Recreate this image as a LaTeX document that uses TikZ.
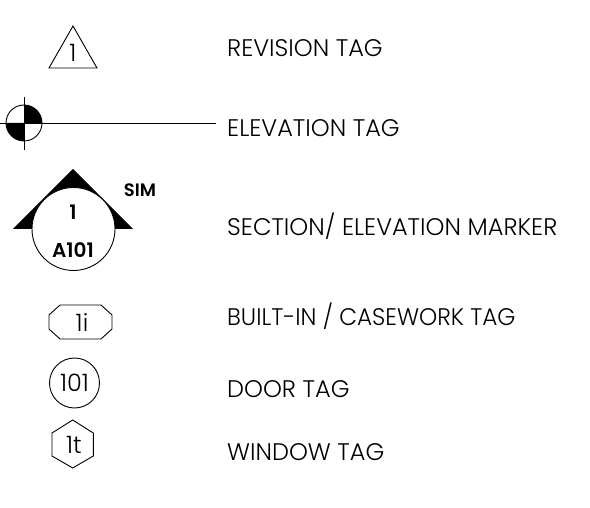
\documentclass[tikz,border=0pt]{standalone}
\usepackage{graphicx}
\usepackage{fontspec}
\setmainfont{Poppins}[UprightFont=* Light,BoldFont=* SemiBold]
\tikzset{
  sym/.style={draw=black,line width=0.9pt,line join=miter,fill=none},
  lab/.style={anchor=base west,inner sep=0pt,font=\fontsize{24}{28}\selectfont},
  tagtxt/.style={inner sep=0pt,font=\fontsize{24}{28}\selectfont},
  boldtxt/.style={inner sep=0pt,font=\fontsize{20}{24}\selectfont\bfseries},
}
\begin{document}
\begin{tikzpicture}[x=1pt,y=-1pt]
\useasboundingbox (0,0) rectangle (590,508);
% revision
\draw[sym] (73,26) -- (97,68) -- (49,68) -- cycle;
\node[tagtxt] (t1) at (73,53) {1};
\node[lab] (l1) at (227,57) {REVISION TAG};
% elevation
\coordinate (ec) at (24,123);
\fill (ec) -- (24,105) arc[start angle=-90,end angle=0,radius=18] -- cycle;
\fill (ec) -- (24,141) arc[start angle=90,end angle=180,radius=18] -- cycle;
\draw[sym] (ec) circle[radius=18];
\coordinate (ee) at (216,123);
\coordinate (ew) at (0,123);
\draw[sym] (ew) -- (ee);
\draw[sym] (24,97) -- (24,150);
\node[lab] (l2) at (227,137) {ELEVATION TAG};
% section marker
\fill (73,169) -- (133,229) -- (13,229) -- cycle;
\node[circle,draw=black,fill=white,line width=0.9pt,minimum size=83pt,inner sep=0pt] (sc) at (73.5,229) {};
\node[boldtxt] (s1) at (73,212) {1};
\node[boldtxt] (s2) at (73,250) {A101};
\node[boldtxt,font=\fontsize{18}{22}\selectfont\bfseries] (sim) at (140,190) {SIM};
\node[lab] (l3) at (227,236) {SECTION/ ELEVATION MARKER};
% built-in
\draw[sym] (60,305) -- (101,305) -- (112,315) -- (112,329) -- (101,339) -- (60,339) -- (49,329) -- (49,315) -- cycle;
\node[tagtxt] (t4) at (82,322) {1i};
\node[lab] (l4) at (227,326) {\scalebox{0.963}[1]{BUILT-IN / CASEWORK TAG}};
% door
\node[circle,draw=black,line width=0.9pt,minimum size=50pt,inner sep=0pt,tagtxt] (d) at (74.5,383) {101};
\node[lab] (l5) at (227,397) {DOOR TAG};
% window
\draw[sym] (72.7,420) -- (93.3,433) -- (93.3,456) -- (72.7,468) -- (52,456) -- (52,433) -- cycle;
\node[tagtxt] (t6) at (74,445) {1t};
\node[lab] (l6) at (227,460) {WINDOW TAG};
\end{tikzpicture}
\end{document}
